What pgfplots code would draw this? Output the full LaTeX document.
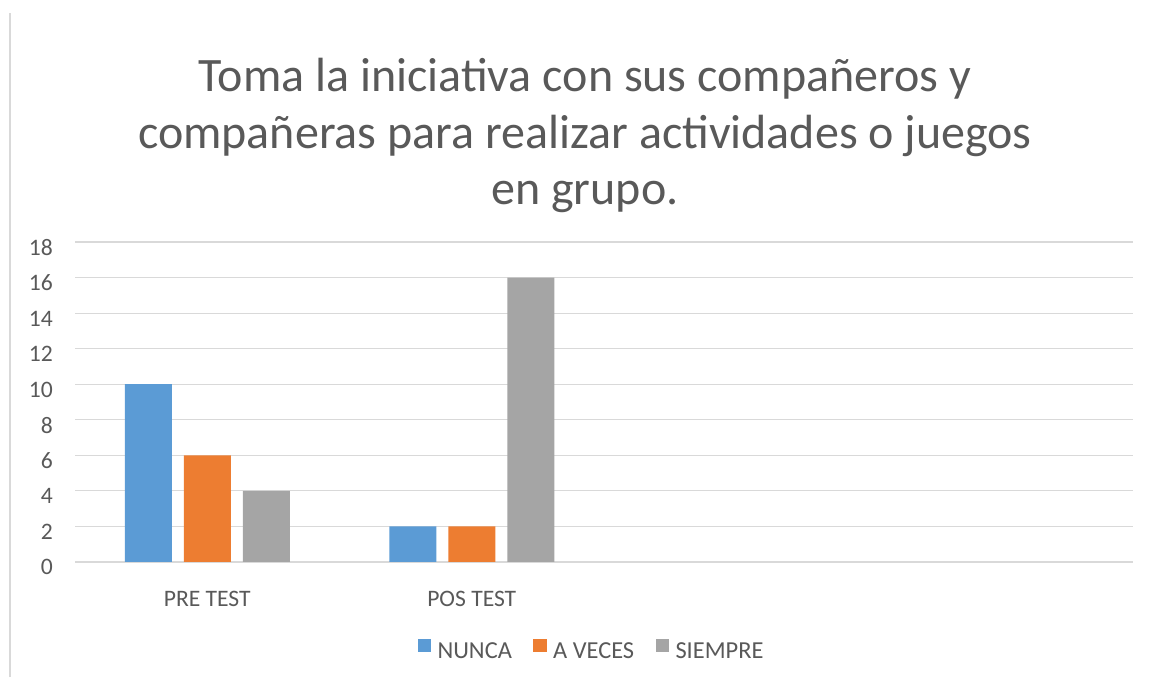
\documentclass[border=0pt]{standalone}
\usepackage{pgfplots}
\pgfplotsset{compat=1.18}
\usepackage{fontspec}
\setmainfont{Carlito}
\definecolor{txt}{HTML}{595959}
\definecolor{gridc}{HTML}{D9D9D9}
\definecolor{cA}{HTML}{5B9BD5}
\definecolor{cB}{HTML}{ED7D31}
\definecolor{cC}{HTML}{A5A5A5}
\begin{document}
\begin{tikzpicture}
\path (0,0) rectangle (864pt,507.75pt);
\draw[gridc, line width=1pt] (7.5pt,0) -- (7.5pt,498pt);
\node[anchor=base, text=txt, font=\fontsize{36}{43}\selectfont, inner sep=0pt] at (438.75pt,438.75pt) {Toma la iniciativa con sus compañeros y};
\node[anchor=base, text=txt, font=\fontsize{36}{43}\selectfont, inner sep=0pt] at (438.75pt,396.4pt) {compañeras para realizar actividades o juegos};
\node[anchor=base, text=txt, font=\fontsize{36}{43}\selectfont, inner sep=0pt] at (438.75pt,354pt) {en grupo.};
\begin{axis}[
  at={(56.25pt,86.25pt)}, anchor=south west,
  scale only axis, width=793.5pt, height=240pt,
  xmin=-0.5, xmax=3.5, ymin=0, ymax=18,
  ytick={0,2,...,18},
  xtick={0,1}, xticklabels={PRE TEST, POS TEST},
  axis line style={draw=none},
  ymajorgrids, grid style={gridc, line width=0.9pt},
  major tick length=0pt,
  /pgf/number format/assume math mode=true,
  ticklabel style={text=txt, font=\fontsize{17.7}{21}\selectfont},
  yticklabel style={anchor=east, inner sep=0pt, xshift=-16.5pt, yshift=-4pt},
  xticklabel style={anchor=base, inner sep=0pt, yshift=-33pt},
  ybar=9pt, bar width=35.25pt,
  legend style={at={(0.4885,-0.278)}, anchor=center, draw=none,
    nodes={font=\fontsize{18.3}{22}\selectfont, text=txt},
    /tikz/every even column/.style={column sep=14pt},
    /tikz/every odd column/.style={column sep=3pt}},
  legend columns=3,
  legend image code/.code={\fill[#1] (0pt,0pt) rectangle (10pt,10pt);},
]
\addplot[fill=cA, draw=none] coordinates {(0,10) (1,2)};
\addplot[fill=cB, draw=none] coordinates {(0,6) (1,2)};
\addplot[fill=cC, draw=none] coordinates {(0,4) (1,16)};
\legend{NUNCA, A VECES, SIEMPRE}
\end{axis}
\end{tikzpicture}
\end{document}
